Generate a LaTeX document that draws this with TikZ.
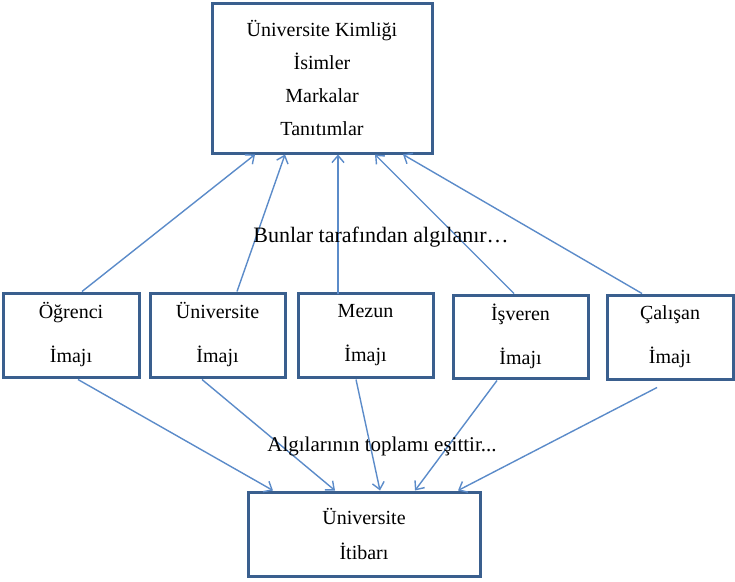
\documentclass[tikz,border=0pt]{standalone}
\usepackage{fontspec}
\setmainfont{Liberation Serif}
\usetikzlibrary{arrows.meta}
\definecolor{boxblue}{HTML}{3A5F8E}
\definecolor{arrblue}{HTML}{5B8BC9}
\begin{document}
\begin{tikzpicture}[x=1pt,y=-1pt,
  box/.style={draw=boxblue,line width=3pt,rectangle,inner sep=0pt,align=center,
    font=\fontsize{20}{44}\selectfont},
  conn/.style={draw=arrblue,line width=1.4pt,-{Straight Barb[length=7pt,width=12pt,line width=1.4pt]}},
  lbl/.style={font=\fontsize{22}{24}\selectfont,inner sep=0pt}]
\useasboundingbox (0,0) rectangle (735,581);
\node[box,minimum width=220pt,minimum height=150pt,font=\fontsize{20}{33}\selectfont] (top) at (322,78)
  {Üniversite Kimliği\\İsimler\\Markalar\\Tanıtımlar};
\node[box,minimum width=136pt,minimum height=84pt] (b1) at (71,335) {Öğrenci\\İmajı};
\node[box,minimum width=135pt,minimum height=84pt] (b2) at (217.5,335) {Üniversite\\İmajı};
\node[box,minimum width=135pt,minimum height=84pt] (b3) at (365.5,335) {Mezun\\İmajı};
\node[box,minimum width=135pt,minimum height=83pt] (b4) at (520.5,336.5) {İşveren\\İmajı};
\node[box,minimum width=126pt,minimum height=84pt] (b5) at (670,337) {Çalışan\\İmajı};
\node[box,minimum width=232pt,minimum height=84pt,font=\fontsize{20}{35}\selectfont] (bot) at (364,534) {Üniversite\\İtibarı};
% up arrows
\draw[conn] ([xshift=11pt]b1.north) -- ([xshift=-67pt]top.south);
\draw[conn] ([xshift=19.5pt]b2.north) -- ([xshift=-37pt]top.south);
\draw[conn] ([xshift=-27.5pt,yshift=-2pt]b3.north) -- ([xshift=16pt]top.south);
\draw[conn] ([xshift=-6.5pt]b4.north) -- ([xshift=53pt]top.south);
\draw[conn] ([xshift=-28pt]b5.north) -- ([xshift=81pt]top.south);
% down arrows
\draw[conn] ([xshift=7pt,yshift=-1pt]b1.south) -- ([xshift=-91pt]bot.north);
\draw[conn] ([xshift=-15.5pt,yshift=-1pt]b2.south) -- ([xshift=-29pt]bot.north);
\draw[conn] ([xshift=-9.5pt,yshift=-1pt]b3.south) -- ([xshift=16pt]bot.north);
\draw[conn] ([xshift=-23.5pt,yshift=-1pt]b4.south) -- ([xshift=51pt]bot.north);
\draw[conn] ([xshift=-13pt,yshift=-7pt]b5.south) -- ([xshift=94pt]bot.north);
% labels
\node[lbl] (l1) at (381,237) {Bunlar tarafından algılanır…};
\node[lbl,font=\fontsize{21}{24}\selectfont] (l2) at (382,446) {Algılarının toplamı eşittir...};
\end{tikzpicture}
\end{document}
